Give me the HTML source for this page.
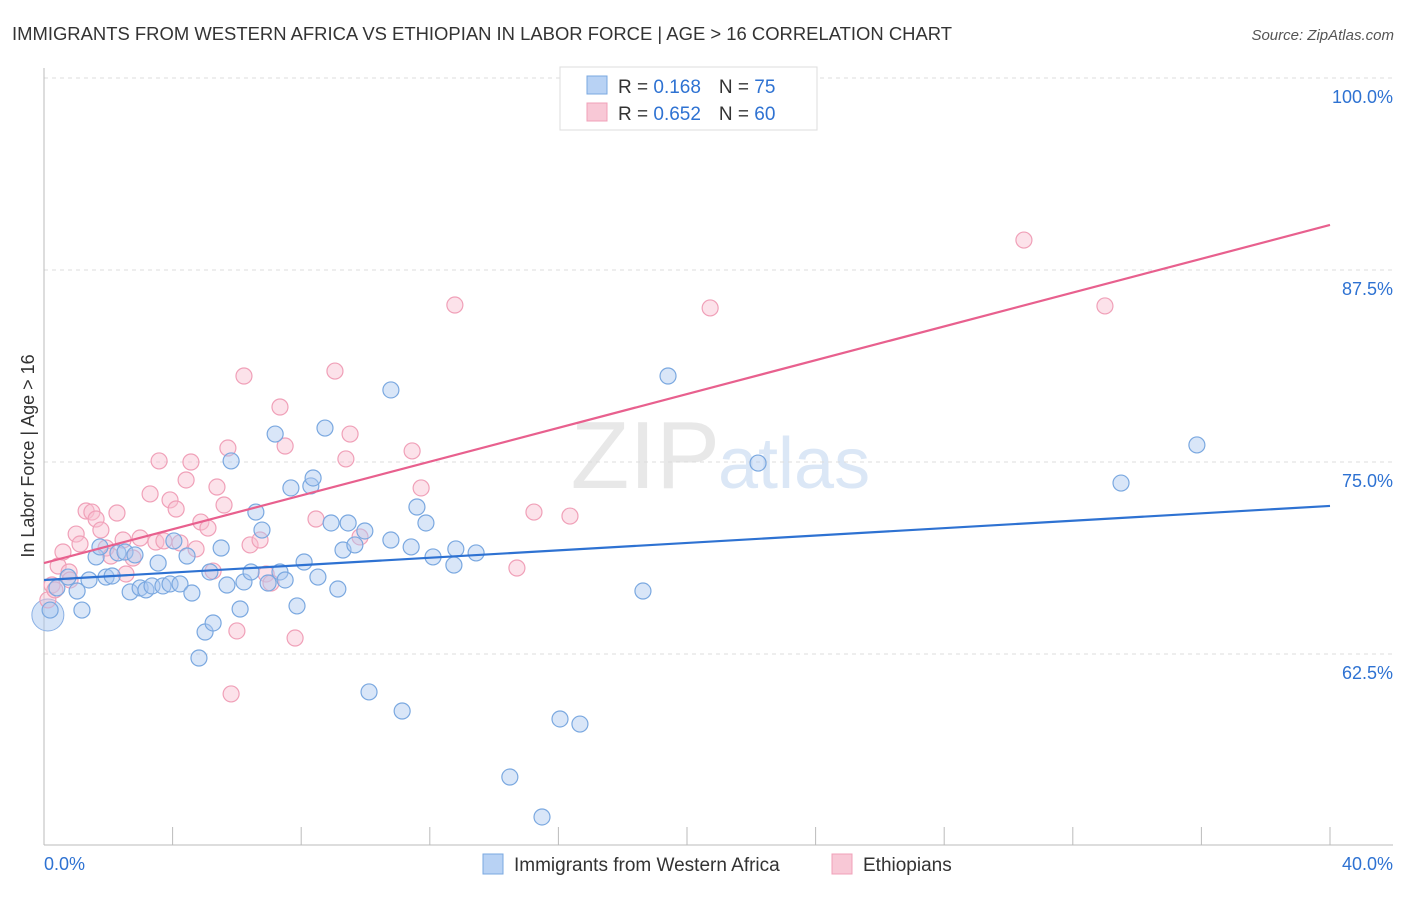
<!DOCTYPE html>
<html><head><meta charset="utf-8"><style>
body{margin:0;background:#fff;font-family:"Liberation Sans",sans-serif;}
svg text{font-family:"Liberation Sans",sans-serif;}
</style></head><body>
<svg id="chart" width="1406" height="892" xmlns="http://www.w3.org/2000/svg">
<text x="12" y="40" font-size="18" fill="#333" textLength="940" lengthAdjust="spacingAndGlyphs">IMMIGRANTS FROM WESTERN AFRICA VS ETHIOPIAN IN LABOR FORCE | AGE &gt; 16 CORRELATION CHART</text>
<text x="1394" y="40" font-size="15" fill="#555" text-anchor="end" font-style="italic">Source: ZipAtlas.com</text>
<text x="720" y="488" font-size="96" fill="#e8e8e8" text-anchor="end" font-family="Liberation Serif">ZIP</text>
<text x="718" y="488" font-size="72" fill="#dbe7f6">atlas</text>
<g id="grid"></g>
<g id="axes"></g>
<g id="pts"></g>
<g id="trends"></g>
<text transform="translate(34,456) rotate(-90)" font-size="18" fill="#333" text-anchor="middle">In Labor Force | Age &gt; 16</text>
<g>
<rect x="560" y="67" width="257" height="63" fill="#fff" stroke="#ddd"/>
<rect x="587" y="76" width="20" height="18" fill="#b8d2f4" stroke="#7aa8e0"/>
<text x="618" y="93" font-size="19" fill="#333">R = <tspan fill="#2e72d2">0.168</tspan><tspan dx="18">N = </tspan><tspan fill="#2e72d2">75</tspan></text>
<rect x="587" y="103" width="20" height="18" fill="#f8c8d6" stroke="#f0a0b8"/>
<text x="618" y="120" font-size="19" fill="#333">R = <tspan fill="#2e72d2">0.652</tspan><tspan dx="18">N = </tspan><tspan fill="#2e72d2">60</tspan></text>
</g>
<g>
<rect x="483" y="854" width="20" height="20" fill="#b8d2f4" stroke="#7aa8e0"/>
<text x="514" y="871" font-size="19" fill="#333">Immigrants from Western Africa</text>
<rect x="832" y="854" width="20" height="20" fill="#f8c8d6" stroke="#f0a0b8"/>
<text x="863" y="871" font-size="19" fill="#333">Ethiopians</text>
</g>
</svg>
<script>
const yTicks=[62.5,75,87.5,100];
const yTickLabels=["62.5%","75.0%","87.5%","100.0%"];
const xTickCount=10;
const blueX=[0.19,0.40,0.75,1.03,1.18,1.40,1.62,1.74,1.93,2.12,2.30,2.52,2.68,2.83,2.99,3.17,3.36,3.55,3.70,3.92,4.04,4.23,4.45,4.60,4.82,5.01,5.16,5.26,5.51,5.69,5.82,6.10,6.22,6.44,6.59,6.78,6.97,7.19,7.34,7.50,7.68,7.87,8.09,8.30,8.37,8.52,8.74,8.93,9.14,9.30,9.46,9.67,9.98,10.11,10.79,10.79,11.14,11.42,11.60,11.88,12.10,12.75,12.81,13.44,14.49,15.49,16.05,16.67,18.63,19.41,22.21,33.50,35.86];
const blueY=[65.36,66.80,67.51,66.60,65.36,67.32,68.82,69.47,67.51,67.58,69.08,69.14,66.54,68.95,66.80,66.67,66.93,68.42,66.93,67.06,69.86,67.06,68.88,66.47,62.24,63.93,67.84,64.52,69.40,66.99,75.07,65.43,67.19,67.84,71.74,70.57,67.12,76.82,67.84,67.32,73.31,65.63,68.49,73.44,73.96,67.51,77.21,71.03,66.73,69.27,71.03,69.60,70.51,60.03,79.69,69.92,58.79,69.47,72.07,71.03,68.82,68.29,69.34,69.08,54.49,51.89,58.27,57.94,66.60,80.60,74.93,73.63,76.11];
const pinkX=[0.25,0.44,0.59,0.78,1.00,1.12,1.31,1.49,1.62,1.77,1.93,2.08,2.27,2.46,2.55,2.77,2.99,3.30,3.48,3.58,3.73,3.92,4.11,4.23,4.42,4.57,4.73,4.88,5.10,5.26,5.38,5.60,5.72,6.00,5.82,6.22,6.41,6.72,6.91,7.06,7.34,7.50,7.81,8.46,9.05,9.39,9.52,9.83,11.45,11.73,12.78,14.71,15.24,16.36,20.72,30.48,33.00,0.12,0.34,0.81];
const pinkY=[66.99,68.23,69.14,67.84,70.31,69.66,71.81,71.74,71.29,70.57,69.40,68.88,71.68,69.92,67.71,68.75,70.05,72.92,69.79,75.07,69.86,72.53,71.94,69.73,73.83,75.00,69.34,71.09,70.70,67.90,73.37,72.20,75.91,64.00,59.90,80.60,69.60,69.92,67.71,67.12,78.58,76.04,63.54,71.29,80.92,75.20,76.82,70.12,75.72,73.31,85.22,68.10,71.74,71.48,85.03,89.45,85.16,66.02,66.67,67.32];
const blueTrend=[67.32,72.14];
const pinkTrend=[68.42,90.43];
const NS="http://www.w3.org/2000/svg";
const X=v=>44+v*32.15, Y=v=>78+(100-v)*15.36;
function mk(tag,attrs,parent){const e=document.createElementNS(NS,tag);for(const k in attrs)e.setAttribute(k,attrs[k]);parent.appendChild(e);return e;}
const grid=document.getElementById('grid'),axes=document.getElementById('axes'),pts=document.getElementById('pts'),tr=document.getElementById('trends');
yTicks.forEach((t,i)=>{
 const l=mk('line',{x1:44,x2:1393,y1:Y(t),y2:Y(t),stroke:'#ddd','stroke-dasharray':'4,4'},grid);
 
 
 const tx=mk('text',{x:1393,y:Y(t)+25,'font-size':18,fill:'#2e72d2','text-anchor':'end'},grid);
 tx.textContent=yTickLabels[i];
 
 
});
const ya=mk('line',{x1:44,x2:44,y1:68,y2:845,stroke:'#bbb'},axes);


const xa=mk('line',{x1:44,x2:1393,y1:845,y2:845,stroke:'#bbb'},axes);


for(let i=0;i<=xTickCount;i++){
 const tk=mk('line',{x1:X(i*4),x2:X(i*4),y1:827,y2:845,stroke:'#bbb'},axes);
 
 
}
const xl0=mk('text',{x:44,y:870,'font-size':18,fill:'#2e72d2'},axes);xl0.textContent='0.0%';


const xl1=mk('text',{x:1393,y:870,'font-size':18,fill:'#2e72d2','text-anchor':'end'},axes);xl1.textContent='40.0%';


const big=mk('circle',{cx:X(0.12),cy:Y(65.04),r:16,fill:'rgba(170,200,240,0.5)',stroke:'#8ab0e4'},pts);


pinkX.forEach((x,i)=>{
 const c=mk('circle',{cx:X(x),cy:Y(pinkY[i]),r:8,fill:'rgba(248,190,208,0.45)',stroke:'#f0a0b8','stroke-width':1.2},pts);
 
 
});
blueX.forEach((x,i)=>{
 const c=mk('circle',{cx:X(x),cy:Y(blueY[i]),r:8,fill:'rgba(170,200,240,0.45)',stroke:'#7aa8e0','stroke-width':1.2},pts);
 
 
});
const bt=mk('line',{x1:X(0),y1:Y(blueTrend[0]),x2:X(40),y2:Y(blueTrend[1]),stroke:'#2e72d2','stroke-width':2.2},tr);


const pt=mk('line',{x1:X(0),y1:Y(pinkTrend[0]),x2:X(40),y2:Y(pinkTrend[1]),stroke:'#e8608e','stroke-width':2.2},tr);


</script>
</body></html>
